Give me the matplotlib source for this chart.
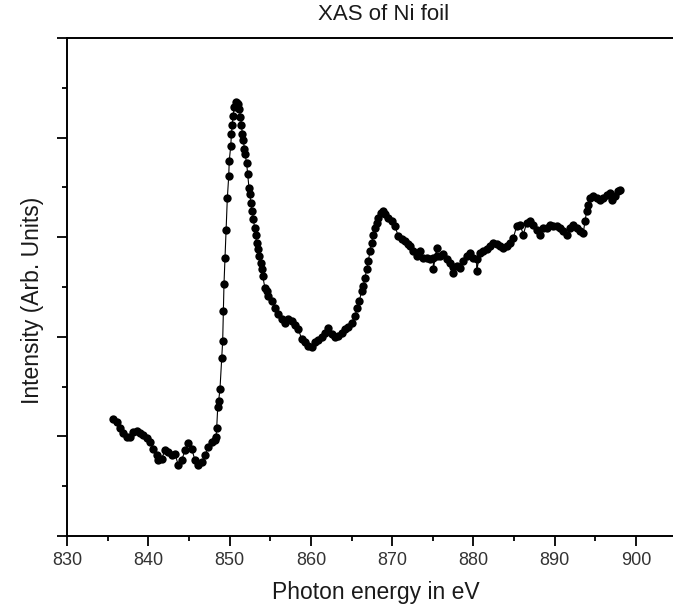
import matplotlib
matplotlib.use("Agg")
import matplotlib.pyplot as plt
from matplotlib.ticker import MultipleLocator, NullFormatter

plt.rcParams['font.family'] = ['Liberation Sans', 'DejaVu Sans']

# Ni L-edge XAS scan: photon energy (eV) and intensity (arb. units)
pre_edge_energy = [835.60, 836.11, 836.52, 836.92, 837.34, 837.75, 838.15, 838.57,
                   838.98, 839.38, 839.80, 840.21, 840.61, 841.03, 841.23, 841.65,
                   842.05, 842.46, 842.88, 843.28, 843.69, 844.11, 844.51, 844.92,
                   845.34, 845.74, 846.15, 846.57, 846.97, 847.38, 847.80, 848.20]
pre_edge_intensity = [117.7, 114.3, 108.0, 103.0, 99.0, 99.3, 104.3, 105.3,
                      103.0, 101.7, 98.7, 94.3, 87.7, 81.0, 76.0, 77.7,
                      86.0, 84.3, 81.0, 82.7, 71.0, 76.0, 86.0, 93.3,
                      87.7, 76.0, 71.0, 74.3, 81.0, 89.3, 94.3, 96.7]

l3_energy = [848.33, 848.41, 848.54, 848.66, 848.82, 849.03, 849.15, 849.23,
             849.31, 849.43, 849.56, 849.72, 849.89, 849.96, 850.14, 850.23,
             850.33, 850.42, 850.58, 850.75, 850.91, 851.07, 851.19, 851.34,
             851.46, 851.56, 851.68, 851.81, 851.89, 852.10, 852.23, 852.39,
             852.51, 852.60, 852.79, 852.92, 853.09, 853.21, 853.33, 853.49,
             853.65, 853.82, 853.95, 854.07, 854.35, 854.56, 854.76, 855.18,
             855.58, 855.99]
l3_intensity = [99.0, 108.0, 129.3, 136.0, 148.0, 179.0, 196.0, 226.0,
                253.0, 279.0, 307.0, 339.0, 361.0, 377.0, 391.5, 404.0,
                413.0, 421.5, 431.0, 435.5, 435.0, 433.5, 429.0, 421.0,
                413.0, 404.0, 398.0, 389.0, 384.0, 374.0, 363.0, 349.0,
                343.0, 334.0, 326.0, 318.0, 309.0, 302.0, 294.0, 288.0,
                281.0, 274.0, 268.0, 261.0, 249.0, 246.0, 241.0, 236.0,
                229.0, 223.0]

l2_energy = [856.41, 856.81, 857.22, 857.64, 858.04, 858.45, 858.87, 859.27,
             859.68, 860.10, 860.50, 860.91, 861.33, 861.73, 862.14, 862.56,
             862.96, 863.37, 863.79, 864.19, 864.60, 865.02, 865.42, 865.71,
             865.95, 866.25, 866.45, 866.65, 866.86, 867.06, 867.27, 867.48,
             867.68, 867.88, 868.09, 868.29, 868.59, 868.83, 869.11, 869.52,
             869.94, 870.34, 870.75, 871.17, 871.57, 871.98]
l2_intensity = [217.7, 214.3, 217.7, 216.0, 212.0, 207.7, 197.7, 194.3,
                191.0, 189.3, 194.3, 196.7, 199.3, 204.3, 209.3, 202.7,
                199.3, 201.0, 204.3, 207.7, 210.0, 214.3, 221.0, 229.3,
                236.0, 246.0, 251.0, 259.3, 267.7, 276.0, 286.0, 294.3,
                302.7, 309.3, 314.3, 319.3, 324.3, 326.0, 323.3, 319.3,
                316.0, 311.0, 301.0, 297.7, 296.0, 292.7]

post_edge_energy = [872.19, 872.60, 873.01, 873.42, 873.83, 874.24, 874.65, 875.06,
                    875.06, 875.47, 875.47, 875.88, 876.29, 876.70, 877.11, 877.52,
                    877.52, 877.93, 878.34, 878.75, 879.16, 879.57, 879.98, 880.39,
                    880.39, 880.80, 881.21, 881.62, 882.03, 882.44, 882.85, 883.26,
                    883.67, 884.08, 884.49, 884.90, 885.31, 885.72, 886.13, 886.54,
                    886.95, 887.36, 887.77, 888.18, 888.59, 889.00, 889.41, 889.82,
                    890.23, 890.64, 891.05, 891.46, 891.87, 892.28, 892.69, 893.10,
                    893.51, 893.71, 893.92, 894.12, 894.33, 894.74, 895.15, 895.56,
                    895.97, 896.38, 896.79, 897.00, 897.41, 897.81, 898.02]
post_edge_intensity = [291.0, 286.0, 281.0, 286.0, 279.3, 278.7, 277.7, 279.3,
                       267.7, 289.3, 281.0, 281.0, 282.7, 277.7, 274.3, 270.0,
                       264.3, 271.0, 268.7, 276.0, 281.0, 284.3, 279.3, 277.7,
                       266.0, 284.3, 286.0, 287.7, 291.0, 294.3, 292.7, 291.0,
                       289.3, 291.0, 294.3, 299.3, 311.0, 312.7, 302.7, 314.3,
                       316.0, 312.7, 307.7, 302.7, 309.3, 309.3, 312.7, 311.0,
                       311.0, 309.3, 306.0, 302.7, 309.3, 312.7, 309.3, 306.0,
                       304.3, 316.0, 326.0, 332.7, 339.3, 341.0, 339.3, 337.7,
                       339.3, 342.7, 344.3, 337.7, 341.0, 346.0, 347.7]

x_ticks = [830, 840, 850, 860, 870, 880, 890, 900]

energy = pre_edge_energy + l3_energy + l2_energy + post_edge_energy
intensity = pre_edge_intensity + l3_intensity + l2_intensity + post_edge_intensity

W, H = 673, 611
fig = plt.figure(figsize=(W / 100, H / 100), dpi=100)
ax = fig.add_axes([67 / W, (H - 536) / H, 1 - 67 / W, (536 - 38) / H])

ax.plot(energy, intensity, color='black', linewidth=0.8,
        marker='o', markersize=6, markeredgewidth=0, markerfacecolor='black')

ax.set_xlim(830, 904.54)
ax.set_ylim(0, 500)

ax.set_xticks(x_ticks)
ax.xaxis.set_minor_locator(MultipleLocator(5))
ax.yaxis.set_major_locator(MultipleLocator(100))
ax.yaxis.set_minor_locator(MultipleLocator(50))
ax.yaxis.set_major_formatter(NullFormatter())

for side in ('left', 'bottom', 'top'):
    ax.spines[side].set_linewidth(1.4)
ax.spines['right'].set_visible(False)

ax.tick_params(axis='both', which='major', direction='out', length=7.5, width=1.3,
               labelsize=13, labelcolor='#333333', pad=4)
ax.tick_params(axis='both', which='minor', direction='out', length=3.8, width=1.3)
ax.tick_params(axis='x', which='both', top=False)

fig.text(384 / W, 1 - 15 / H, 'XAS of Ni foil', ha='center', va='center',
         fontsize=16, color='#1a1a1a')
fig.text(376 / W, 1 - 593 / H, 'Photon energy in eV', ha='center', va='center',
         fontsize=16.5, color='#1a1a1a')
fig.text(33 / W, 1 - 300 / H, 'Intensity (Arb. Units)', ha='center', va='center',
         rotation=90, fontsize=16.5, color='#1a1a1a')

fig.savefig('out.png', dpi=100)
